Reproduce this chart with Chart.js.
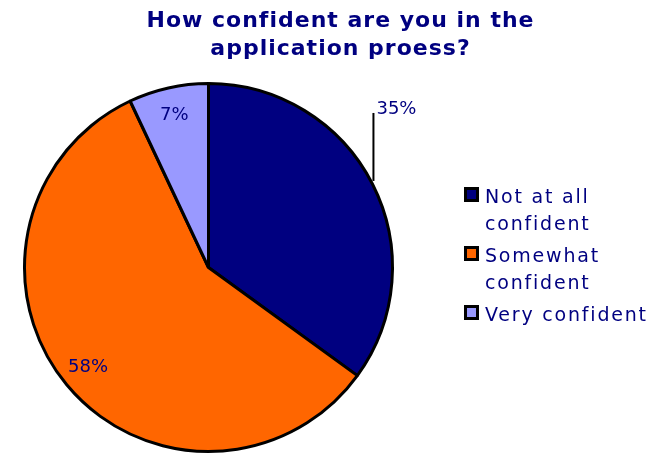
<!DOCTYPE html>
<html>
<head>
<meta charset="utf-8">
<script src="https://cdn.jsdelivr.net/npm/chart.js@4"></script>
<style>
  html, body { margin: 0; padding: 0; background: #fff; }
  #wrap { width: 654px; height: 455px; }
</style>
</head>
<body>
<div id="wrap"><canvas id="pie" width="654" height="455"></canvas></div>
<script>
// Survey answers, share of respondents in %
const categories = ["Not at all confident", "Somewhat confident", "Very confident"];
const legendLines = [["Not at all", "confident"], ["Somewhat", "confident"], ["Very confident"]];
const shares = [35, 58, 7];
const titleLines = ["How confident are you in the", "application proess?"];

const NAVY = "#000080";
const FONT = "'DejaVu Sans', Verdana, sans-serif";
const sliceColors = ["#000080", "#FF6600", "#9999FF"];
// where each percentage goes: inside the slice, or outside on a leader line
const labelSpot = ["leader", "inside", "inside"];

// Title at the top, centred over the whole picture.
const titlePlugin = {
  id: "titleText",
  afterDraw(chart) {
    const { ctx } = chart;
    ctx.save();
    ctx.fillStyle = NAVY;
    ctx.font = "bold 22px " + FONT;
    ctx.letterSpacing = "1px";
    ctx.textAlign = "center";
    ctx.textBaseline = "alphabetic";
    titleLines.forEach((t, i) => ctx.fillText(t, 340.5, 27 + i * 28));
    ctx.restore();
  },
};

// Percentages on (or next to) the slices.
const pctPlugin = {
  id: "pctLabels",
  afterDatasetsDraw(chart) {
    const { ctx } = chart;
    const meta = chart.getDatasetMeta(0);
    ctx.save();
    ctx.fillStyle = NAVY;
    ctx.font = "18px " + FONT;
    meta.data.forEach((arc, i) => {
      const mid = (arc.startAngle + arc.endAngle) / 2;
      const txt = shares[i] + "%";
      if (labelSpot[i] === "leader") {
        const ex = arc.x + Math.cos(mid) * arc.outerRadius;
        const ey = arc.y + Math.sin(mid) * arc.outerRadius;
        const top = ey - 71;
        ctx.strokeStyle = "#000";
        ctx.lineWidth = 2;
        ctx.beginPath();
        ctx.moveTo(ex + 1, ey - 3);
        ctx.lineTo(ex + 1, top);
        ctx.stroke();
        ctx.textAlign = "left";
        ctx.textBaseline = "alphabetic";
        ctx.fillText(txt, ex + 4, top + 1);
      } else {
        const r = arc.outerRadius * 0.85;
        ctx.textAlign = "center";
        ctx.textBaseline = "middle";
        ctx.fillText(txt, arc.x + Math.cos(mid) * r, arc.y + Math.sin(mid) * r);
      }
    });
    ctx.restore();
  },
};

// Legend on the right with wrapped entries.
const legendPlugin = {
  id: "sideLegend",
  afterDraw(chart) {
    const { ctx } = chart;
    ctx.save();
    ctx.font = "19px " + FONT;
    ctx.letterSpacing = "1.8px";
    ctx.textAlign = "left";
    ctx.textBaseline = "alphabetic";
    let y = 203;
    legendLines.forEach((lines, i) => {
      ctx.fillStyle = sliceColors[i];
      ctx.fillRect(465.5, y - 14.5, 12, 12);
      ctx.strokeStyle = "#000";
      ctx.lineWidth = 3;
      ctx.strokeRect(465.5, y - 14.5, 12, 12);
      ctx.fillStyle = NAVY;
      lines.forEach((l, j) => ctx.fillText(l, 485, y + j * 27));
      y += lines.length * 27 + 5;
    });
    ctx.restore();
  },
};

new Chart(document.getElementById("pie"), {
  type: "pie",
  data: {
    labels: categories,
    datasets: [{
      data: shares,
      backgroundColor: sliceColors,
      borderColor: "#000",
      borderWidth: 3,
      hoverOffset: 0,
    }],
  },
  options: {
    responsive: false,
    animation: false,
    events: [],
    layout: { padding: { left: 23, right: 260, top: 82, bottom: 2 } },
    plugins: { legend: { display: false }, tooltip: { enabled: false }, title: { display: false } },
  },
  plugins: [pctPlugin, titlePlugin, legendPlugin],
});
</script>
</body>
</html>
